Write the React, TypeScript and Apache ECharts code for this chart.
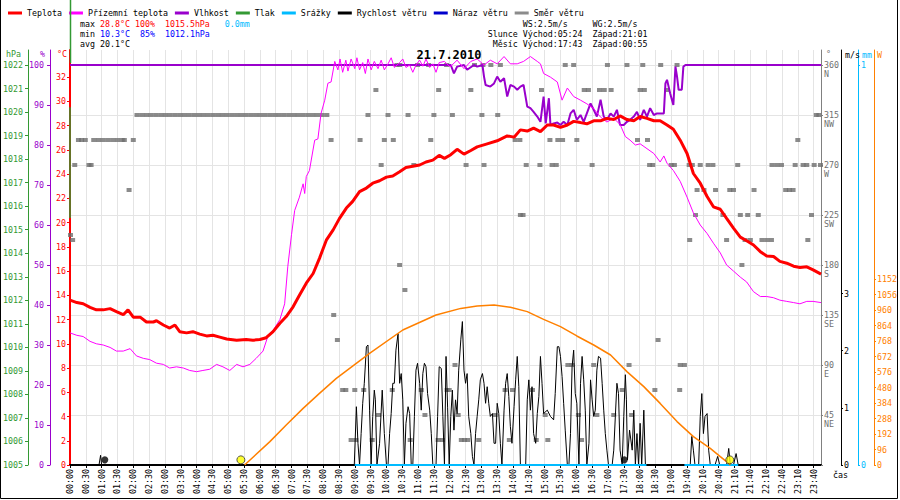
import React, { useEffect, useRef } from 'react';
import * as echarts from 'echarts';

// ---------- DATA (x = nominal minutes; one x-label every 30) ----------
const TIME_LABELS = ['00:00','00:30','01:00','01:30','02:00','02:30','03:00','03:30','04:00','04:30','05:00','05:30','06:00','06:30','07:00','07:30','08:00','08:30','09:00','09:30','10:00','10:30','11:00','11:30','12:00','12:30','13:00','13:30','14:00','14:30','15:00','15:30','16:00','16:30','17:00','17:30','18:00','18:30','19:00','19:40','20:10','20:40','21:10','21:40','22:10','22:40','23:10','23:40'];

const TEMP_TICKS = [0,2,4,6,8,10,12,14,16,18,20,22,24,26,28,30,32];
const HUM_TICKS = [0,10,20,30,40,50,60,70,80,90,100];
const PRES_TICKS = [1005,1006,1007,1008,1009,1010,1011,1012,1013,1014,1015,1016,1017,1018,1019,1020,1021,1022];
const DIR_TICKS = [0,45,90,135,180,225,270,315,360];
const DIR_LABELS = [45,90,135,180,225,270,315,360];
const DIR_NAMES = { 45:'NE', 90:'E', 135:'SE', 180:'S', 225:'SW', 270:'W', 315:'NW', 360:'N' };
const SPEED_TICKS = [0,1,2,3];
const RAIN_TICKS = [0,1];
const SOLAR_TICKS = [0,96,192,288,384,480,576,672,768,864,960,1056,1152];

const TEMP = [[0,13.6],[13,13.4],[25,13.3],[38,13.0],[50,12.8],[63,12.8],[76,12.9],[88,12.65],[101,12.4],[110,12.8],[120,12.2],[133,12.2],[145,11.8],[158,11.8],[164,11.9],[177,11.55],[189,11.3],[199,11.55],[208,11.0],[221,10.9],[233,11.0],[246,10.8],[259,10.65],[271,10.7],[284,10.55],[297,10.4],[316,10.3],[334,10.35],[347,10.3],[360,10.35],[372,10.5],[385,11.0],[398,11.7],[410,12.25],[423,13.05],[435,14.0],[448,15.0],[461,15.8],[473,17.05],[486,18.55],[499,19.4],[511,20.35],[524,21.2],[536,21.75],[549,22.55],[562,22.85],[574,23.25],[587,23.45],[600,23.75],[612,23.85],[625,24.2],[637,24.55],[650,24.65],[663,24.75],[675,25.0],[688,25.15],[700,25.55],[710,25.3],[722,25.6],[734,26.05],[747,25.65],[760,25.95],[772,26.25],[791,26.5],[810,26.75],[829,27.15],[842,27.05],[854,27.65],[867,27.55],[879,27.8],[892,27.5],[905,28.05],[917,28.05],[930,27.85],[943,28.05],[955,28.35],[968,28.25],[980,28.15],[993,28.4],[1006,28.4],[1018,28.6],[1031,28.5],[1043,28.8],[1056,28.5],[1069,28.4],[1081,28.75],[1094,28.6],[1107,28.4],[1119,28.4],[1132,28.05],[1144,27.7],[1157,26.8],[1170,25.7],[1182,24.05],[1195,23.25],[1208,22.15],[1220,21.3],[1233,21.1],[1245,20.35],[1258,19.55],[1271,18.8],[1283,18.5],[1296,18.15],[1309,17.6],[1321,17.25],[1334,17.2],[1346,16.8],[1359,16.65],[1372,16.4],[1384,16.3],[1397,16.35],[1409,16.1],[1424,15.75]];

const FEELS = [[0,10.9],[13,10.7],[25,10.6],[38,10.2],[50,10.0],[63,9.9],[76,9.7],[88,9.4],[101,9.4],[114,9.6],[126,9.0],[139,8.8],[151,8.7],[164,8.4],[177,8.3],[189,8.0],[202,8.1],[215,8.0],[227,7.8],[240,7.7],[252,7.8],[265,7.9],[278,8.3],[290,8.1],[303,7.8],[316,8.3],[328,8.1],[341,8.3],[353,8.8],[366,9.4],[375,10.6],[385,11.1],[398,12.0],[407,13.3],[413,16.4],[420,19.0],[426,21.0],[435,22.1],[442,23.2],[445,22.4],[448,23.8],[454,24.3],[464,26.8],[470,26.9],[476,29.0],[483,30.1],[489,31.5],[495,31.6],[502,33.3],[508,32.6],[512,33.5],[517,32.4],[523,33.4],[527,32.5],[533,33.5],[540,32.7],[544,33.6],[549,32.6],[555,33.2],[560,32.3],[565,33.5],[571,32.6],[577,33.3],[584,32.7],[590,33.4],[596,32.6],[603,33.1],[609,33.6],[615,32.8],[625,33.2],[631,33.5],[637,32.8],[644,33.0],[650,32.4],[656,33.0],[663,33.4],[669,32.9],[675,33.5],[682,32.8],[688,33.1],[694,32.4],[700,33.2],[710,33.3],[719,32.9],[722,32.9],[734,33.4],[747,32.7],[760,33.3],[772,33.5],[785,33.0],[797,33.4],[810,33.1],[823,33.7],[835,33.1],[848,33.1],[860,33.3],[873,33.7],[886,33.3],[892,33.1],[898,32.3],[911,32.0],[924,31.6],[933,30.1],[943,31.1],[955,30.4],[968,30.1],[980,29.8],[993,29.4],[1006,28.7],[1018,28.3],[1031,28.6],[1043,28.1],[1053,27.1],[1062,26.8],[1072,26.4],[1081,26.5],[1094,26.1],[1107,25.7],[1119,25.0],[1126,25.5],[1132,24.9],[1144,24.3],[1157,23.4],[1170,22.1],[1182,20.8],[1195,19.8],[1208,19.1],[1220,18.3],[1233,17.5],[1245,16.5],[1258,16.0],[1271,15.5],[1283,15.1],[1296,14.3],[1309,13.9],[1321,13.9],[1334,13.8],[1346,13.6],[1359,13.5],[1372,13.4],[1384,13.3],[1397,13.5],[1409,13.5],[1424,13.4]];

const HUMIDITY = [[0,100],[709,100],[722,100],[728,97.9],[734,99.6],[747,100],[753,98.8],[766,100],[772,99.6],[782,100],[785,97.1],[788,95],[797,94.6],[804,95.4],[810,97.1],[816,95.8],[823,96.7],[829,92.1],[835,95],[842,94.6],[848,93.8],[854,94.6],[860,95],[867,89.6],[873,89.2],[879,88.3],[886,87.1],[892,85.8],[898,92.1],[902,85.4],[908,91.7],[911,85],[917,85.4],[924,85.6],[930,85],[936,85.8],[943,85],[949,87.9],[955,88.8],[961,86.3],[968,87.5],[974,85.8],[980,87.9],[987,90.4],[993,88.8],[999,87.1],[1006,91.3],[1012,87.1],[1018,86.3],[1025,87.9],[1031,87.1],[1037,88.8],[1043,85],[1050,85],[1056,85.8],[1062,86.3],[1069,87.1],[1075,88.3],[1081,86.3],[1088,88.8],[1094,87.1],[1100,89.2],[1107,87.5],[1113,87.9],[1126,87.9],[1129,95.4],[1132,96.3],[1138,92.9],[1144,90],[1148,99.6],[1151,97.1],[1154,93.8],[1160,93.8],[1163,99.6],[1167,100],[1424,100]];

const PRESSURE = [[0,1015.5],[0,1020.2]];

const WIND_SPEED = [[0,0],[55,0],[58,0.17],[60,0],[539,0],[543,1.02],[546,0.38],[549,0],[552,0.55],[555,1.08],[558,1.43],[562,2.07],[565,2.1],[568,0.96],[571,0],[574,0.85],[577,1.31],[579,1.14],[582,0],[587,0.38],[592,1.31],[596,0.55],[600,0],[603,0],[606,0.55],[609,0.9],[612,1.43],[615,1.43],[618,2.01],[622,2.3],[625,1.43],[628,1.6],[631,1.14],[634,0],[637,0.73],[641,1.02],[644,0.9],[647,0],[650,0],[653,0.85],[656,1.66],[659,1.78],[663,1.43],[666,0.96],[669,1.6],[672,1.78],[675,1.72],[678,1.25],[682,0.96],[685,0.55],[688,0],[694,0],[697,0.85],[700,1.72],[704,1.69],[707,0.85],[710,0],[713,1.9],[716,1.0],[719,0],[722,0.85],[725,1.31],[728,0.61],[731,1.14],[734,0.9],[737,1.66],[741,2.19],[744,2.51],[747,1.66],[750,1.43],[753,1.6],[756,0.85],[760,0.55],[763,0.15],[766,0],[769,0.55],[772,0.85],[775,1.14],[778,1.49],[782,1.6],[785,1.43],[788,1.08],[791,1.37],[794,1.08],[797,0.85],[801,0.9],[804,0.38],[807,0.38],[810,1.08],[813,0.9],[816,0.38],[819,0],[823,0.96],[826,1.43],[829,1.6],[832,1.2],[835,0.67],[838,0.38],[842,1.02],[845,1.49],[848,1.9],[851,1.37],[854,0],[864,0],[867,1.14],[870,1.49],[873,0.96],[876,1.37],[879,0.55],[883,0.38],[886,0.9],[889,1.2],[892,1.9],[895,1.43],[898,0.9],[905,0.96],[911,0.85],[917,0.79],[920,1.25],[924,2.07],[927,2.07],[930,1.9],[933,1.55],[936,1.08],[939,0.61],[943,0],[946,0],[949,0.55],[952,1.72],[955,2.01],[958,1.25],[961,1.08],[965,0],[968,1.43],[971,1.9],[974,1.49],[977,0.96],[980,0],[984,0.38],[987,1.49],[990,1.14],[993,0.85],[996,0.96],[999,1.66],[1002,1.9],[1006,1.87],[1009,1.43],[1012,0.96],[1015,0.55],[1018,0.26],[1021,0],[1028,0],[1031,0.26],[1034,0.85],[1037,1.43],[1040,1.25],[1043,0.26],[1047,0],[1050,0.85],[1053,1.58],[1055,1.14],[1057,0.09],[1061,0.61],[1066,0.26],[1069,0.96],[1072,0],[1075,0.55],[1078,0],[1081,0.73],[1084,0],[1088,0.96],[1091,0],[1176,0],[1179,0.5],[1182,0.26],[1185,0],[1192,0],[1195,0.85],[1198,1.25],[1201,0.55],[1204,0.85],[1208,0.9],[1211,0.26],[1214,0],[1223,0],[1228,0.15],[1232,0],[1245,0],[1249,0.29],[1252,0],[1258,0],[1263,0.2],[1267,0],[1424,0]];

const GUST = [];

const WIND_DIR = [[1,207],[5,202.5],[9,270],[16,292.5],[22,292.5],[29,292.5],[36,270],[40,270],[45,292.5],[54,292.5],[63,292.5],[72,292.5],[81,292.5],[90,292.5],[99,292.5],[103,292.5],[112,247.5],[120,292.5],
[127,315],[136,315],[145,315],[154,315],[163,315],[172,315],[181,315],[190,315],[199,315],[208,315],[217,315],[226,315],[235,315],[244,315],[253,315],[262,315],[271,315],[280,315],[289,315],[298,315],[307,315],[316,315],[325,315],[334,315],[343,315],[352,315],[361,315],[370,315],[379,315],[388,315],[397,315],[406,315],[415,315],[424,315],[433,315],[442,315],[451,315],[460,315],[469,315],[478,315],[487,315],
[495,292.5],[500,135],[507,112.5],[517,67.5],[523,67.5],[533,22.5],[540,67.5],[542,22.5],[550,292.5],[557,67.5],[565,315],[573,22.5],[580,337.5],[585,45],[590,270],[596,292.5],[603,315],[611,67.5],[613,292.5],[620,360],[625,360],[625,180],[635,157.5],[641,315],[645,22.5],[652,270],[659,360],[666,67.5],[673,45],[680,360],[684,292.5],[690,315],[698,22.5],[699,337.5],[706,22.5],[714,360],[715,67.5],
[719,67.5],[725,315],[730,90],[736,45],[742,22.5],[748,22.5],[751,270],[754,22.5],[760,337.5],[767,360],[775,22.5],[781,315],[783,360],[785,270],[798,360],[806,45],[811,315],[816,360],[825,67.5],[833,22.5],[839,67.5],[844,292.5],[853,292.5],[854,225],[859,225],[865,270],[877,67.5],[884,22.5],[891,270],[894,337.5],[901,45],[906,22.5],[910,292.5],[914,270],[922,270],[925,292.5],[934,292.5],[939,360],[944,90],[952,90],[955,360],[961,292.5],[964,45],[970,22.5],[975,337.5],[983,337.5],[990,270],[993,90],[999,45],[1004,337.5],[1013,337.5],[1019,360],[1026,337.5],[1031,45],[1047,67.5],[1056,360],[1060,90],[1065,45],[1076,292.5],[1081,337.5],[1086,360],[1089,337.5],[1095,292.5],[1099,270],[1105,270],[1109,67.5],[1115,112.5],[1120,360],[1132,337.5],[1140,270],[1146,270],[1151,360],[1156,67.5],[1157,90],[1165,90],[1174,270],[1175,202.5],[1180,270],[1186,225],[1189,247.5],[1195,270],[1202,247.5],[1210,270],[1219,270],[1224,247.5],[1238,225],[1245,202.5],[1251,247.5],[1258,247.5],[1266,270],[1271,225],[1274,180],[1280,202.5],[1285,225],[1290,202.5],[1297,247.5],[1305,225],[1312,202.5],[1321,202.5],[1330,202.5],[1331,270],[1340,270],[1349,270],[1357,247.5],[1364,247.5],[1371,247.5],[1375,270],[1380,292.5],[1390,270],[1397,270],[1399,202.5],[1406,225],[1411,270],[1415,315],[1420,315],[1423,270]];

const RAIN = [[540,0],[1093,0],[1130,'-'],[1165,0],[1267,0]];

const SOLAR = [[331,0],[379,145],[410,248],[442,351],[473,444],[505,537],[568,692],[631,837],[694,930],[741,971],[772,986],[804,992],[835,978],[867,951],[898,903],[930,858],[961,800],[993,744],[1025,682],[1056,579],[1088,486],[1119,382],[1151,269],[1182,176],[1214,103],[1233,52],[1249,10],[1252,0]];

const SUN_EVENTS = [324, 1251];
const MOON_EVENTS = [66, 1051];

const TITLE = '21.7.2010';
const STAT_MAX = ['28.8°C', '100%', '1015.5hPa', '0.0mm'];
const STAT_MIN = ['10.3°C', ' 85%', '1012.1hPa'];
const STAT_AVG = '20.1°C';
const INFO_LINES = ['       WS:2.5m/s     WG:2.5m/s', 'Slunce Východ:05:24  Západ:21:01', ' Měsíc Východ:17:43  Západ:00:55'];

const LEGEND_NAMES = ['Teplota', 'Přízemní teplota', 'Vlhkost', 'Tlak', 'Srážky', 'Rychlost větru', 'Náraz větru', 'Směr větru'];

// ---------- STYLE ----------
const MONO = '"DejaVu Sans Mono", "Liberation Mono", monospace';
const FS = 8.3;
const FONT = `${FS}px ${MONO}`;
const C = {
  temp: '#ff0000', feels: '#ff00ff', hum: '#9900cc', pres: '#339933', rain: '#00bbff',
  wind: '#000000', gust: '#0000cc', dir: '#6e6e6e', solar: '#ff8000', grid: '#e4e4e4', blue: '#0000ff',
};

function yAxis(o) {
  return {
    type: 'value',
    position: o.pos,
    offset: o.offset,
    min: o.min,
    max: o.max,
    interval: o.interval,
    axisLine: { show: true, onZero: false, lineStyle: { color: o.color, width: o.lw || 1 } },
    axisTick: { show: true, length: o.tickLen || 3, customValues: o.ticks, lineStyle: { color: o.color } },
    axisLabel: {
      show: true, customValues: o.labels || o.ticks, color: o.labelColor || o.color,
      fontFamily: MONO, fontSize: FS, margin: o.margin,
      formatter: o.formatter || ((v) => String(v)), lineHeight: o.lineHeight,
    },
    splitLine: o.split ? { show: true, lineStyle: { color: C.grid, width: 1 } } : { show: false },
  };
}

function buildOption() {
  const xTicks = TIME_LABELS.map((_, i) => i * 30);
  const txt = (x, y, text, fill, align = 'left') => ({
    type: 'text', x, y, silent: true, z: 50,
    style: { text, font: FONT, fill, align, textAlign: align, verticalAlign: 'middle', textVerticalAlign: 'middle' },
  });
  const part = (fill) => ({ fill, color: fill, font: FONT });
  return {
    animation: false,
    backgroundColor: '#ffffff',
    textStyle: { fontFamily: MONO },
    legend: {
      data: LEGEND_NAMES, left: 3, top: 4, icon: 'rect', itemWidth: 14, itemHeight: 3, itemGap: 7,
      selectedMode: false, textStyle: { fontFamily: MONO, fontSize: FS, color: '#000' },
    },
    grid: { left: 70, right: 77, top: 50, bottom: 35 },
    xAxis: {
      type: 'value', min: 0, max: 1424, interval: 30,
      axisLine: { show: true, onZero: false, lineStyle: { color: '#000', width: 2 } },
      axisTick: { show: true, length: 3, customValues: xTicks, lineStyle: { color: '#000' } },
      axisLabel: {
        customValues: xTicks, rotate: 90, margin: 4, fontFamily: MONO, fontSize: FS, color: '#000',
        formatter: (v) => TIME_LABELS[Math.round(v / 30)] || '',
      },
      splitLine: { show: true, lineStyle: { color: C.grid, width: 1 } },
    },
    yAxis: [
      yAxis({ pos: 'left', offset: 0, min: 0, max: 34.24, interval: 2, color: C.temp, lw: 2, ticks: TEMP_TICKS, margin: 4 }),
      yAxis({ pos: 'left', offset: 20, min: 0, max: 103.75, interval: 10, color: C.hum, ticks: HUM_TICKS, margin: 6 }),
      yAxis({ pos: 'left', offset: 42, min: 1005, max: 1022.6375, interval: 1, color: C.pres, ticks: PRES_TICKS, margin: 5 }),
      yAxis({
        pos: 'right', offset: 0, min: 0, max: 373.5, interval: 45, color: '#808080', labelColor: '#707070',
        ticks: DIR_TICKS, labels: DIR_LABELS, margin: 3, split: true, lineHeight: 8.5, tickLen: 2,
        formatter: (v) => '\u00a0\n' + v + '\n' + (DIR_NAMES[v] || ''),
      }),
      yAxis({ pos: 'right', offset: 20, min: 0, max: 7.2625, interval: 1, color: '#000', ticks: SPEED_TICKS, margin: 3, tickLen: 2 }),
      yAxis({ pos: 'right', offset: 37, min: 0, max: 1.0375, interval: 1, color: C.rain, ticks: RAIN_TICKS, margin: 3, tickLen: 2 }),
      yAxis({ pos: 'right', offset: 53, min: 0, max: 2573, interval: 96, color: C.solar, ticks: SOLAR_TICKS, margin: 3, tickLen: 2 }),
    ],
    series: [
      { name: 'Směr větru', type: 'scatter', yAxisIndex: 3, data: WIND_DIR, symbol: 'rect', symbolSize: [5, 4], itemStyle: { color: C.dir }, z: 1, silent: true },
      { name: 'Rychlost větru', type: 'line', yAxisIndex: 4, data: WIND_SPEED, symbol: 'none', lineStyle: { color: C.wind, width: 1 }, itemStyle: { color: C.wind }, z: 2, silent: true },
      { name: 'Náraz větru', type: 'line', yAxisIndex: 4, data: GUST, symbol: 'none', lineStyle: { color: C.gust, width: 1 }, itemStyle: { color: C.gust }, z: 2, silent: true },
      { name: 'Srážky', type: 'line', yAxisIndex: 5, data: RAIN, symbol: 'none', connectNulls: false, lineStyle: { color: C.rain, width: 2 }, itemStyle: { color: C.rain }, z: 3, silent: true, clip: false },
      { name: 'solar', type: 'line', yAxisIndex: 6, data: SOLAR, symbol: 'none', lineStyle: { color: C.solar, width: 1.5 }, itemStyle: { color: C.solar }, z: 3, silent: true },
      { name: 'Vlhkost', type: 'line', yAxisIndex: 1, data: HUMIDITY, symbol: 'none', lineStyle: { color: C.hum, width: 2 }, itemStyle: { color: C.hum }, z: 4, silent: true },
      { name: 'Přízemní teplota', type: 'line', yAxisIndex: 0, data: FEELS, symbol: 'none', lineStyle: { color: C.feels, width: 1 }, itemStyle: { color: C.feels }, z: 5, silent: true },
      { name: 'Teplota', type: 'line', yAxisIndex: 0, data: TEMP, symbol: 'none', lineStyle: { color: C.temp, width: 3 }, itemStyle: { color: C.temp }, z: 6, silent: true },
      { name: 'Tlak', type: 'line', yAxisIndex: 2, data: PRESSURE, symbol: 'none', lineStyle: { color: C.pres, width: 1.5 }, itemStyle: { color: C.pres }, z: 7, silent: true, clip: false },
      { name: 'sun', type: 'scatter', yAxisIndex: 4, data: SUN_EVENTS.map((t) => [t, 0.09]), symbol: 'circle', symbolSize: 8, itemStyle: { color: '#ffff00', borderColor: '#333', borderWidth: 1 }, z: 8, silent: true },
      { name: 'moon', type: 'scatter', yAxisIndex: 4, data: MOON_EVENTS.map((t) => [t, 0.09]), symbol: 'circle', symbolSize: 7, itemStyle: { color: '#000' }, z: 8, silent: true },
    ],
    graphic: [
      { type: 'polyline', silent: true, z: 100, shape: { points: [[0.5, 0], [0.5, 498.5], [897.5, 498.5], [897.5, 0]] }, style: { stroke: '#000', fill: null, lineWidth: 1 } },
      { type: 'line', silent: true, z: 100, shape: { x1: 70.5, y1: 0, x2: 70.5, y2: 63 }, style: { stroke: C.pres, lineWidth: 1.5 } },
      { type: 'text', x: 449, y: 55, silent: true, z: 50, style: { text: TITLE, font: `bold 12px ${MONO}`, fill: '#000', align: 'center', textAlign: 'center', verticalAlign: 'middle', textVerticalAlign: 'middle' } },
      {
        type: 'text', x: 80, y: 24, silent: true, z: 50,
        style: {
          text: `{k|max }{r|${STAT_MAX[0]}}{k| }{r|${STAT_MAX[1]}}{k|  }{r|${STAT_MAX[2]}}{k|   }{c|${STAT_MAX[3]}}`,
          font: FONT, fill: '#000', verticalAlign: 'middle', textVerticalAlign: 'middle',
          rich: { k: part('#000'), r: part(C.temp), c: part(C.rain) },
        },
      },
      {
        type: 'text', x: 80, y: 34, silent: true, z: 50,
        style: {
          text: `{k|min }{b|${STAT_MIN[0]}}{k| }{b|${STAT_MIN[1]}}{k|  }{b|${STAT_MIN[2]}}`,
          font: FONT, fill: '#000', verticalAlign: 'middle', textVerticalAlign: 'middle',
          rich: { k: part('#000'), b: part(C.blue) },
        },
      },
      txt(80, 44, `avg ${STAT_AVG}`, '#000'),
      txt(487.7, 24, INFO_LINES[0], '#000'),
      txt(487.7, 34, INFO_LINES[1], '#000'),
      txt(487.7, 44, INFO_LINES[2], '#000'),
      txt(6, 54, 'hPa', C.pres),
      txt(40, 54, '%', C.hum),
      txt(57, 54, '°C', C.temp),
      txt(826, 54, '°', '#707070'),
      txt(845, 55, 'm/s', '#000'),
      txt(862, 55, 'mm', C.rain),
      txt(877, 55, 'W', C.solar),
      txt(833, 475, 'čas', '#000'),
    ],
  };
}

export default function App() {
  const ref = useRef(null);
  useEffect(() => {
    document.body.style.margin = '0';
    const chart = echarts.init(ref.current, null, { renderer: 'svg' });
    chart.setOption(buildOption());
    return () => chart.dispose();
  }, []);
  return <div ref={ref} style={{ width: 900, height: 500, background: '#fff' }} />;
}
